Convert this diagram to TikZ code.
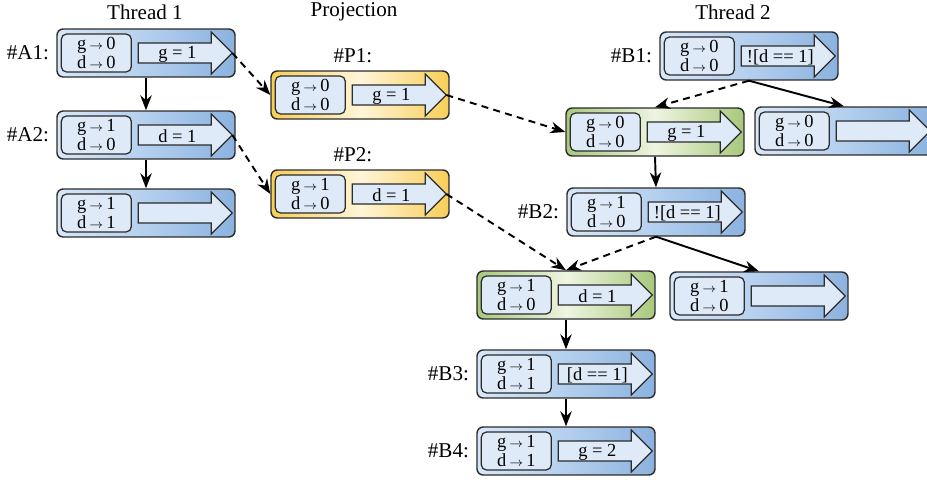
\documentclass[tikz,border=0pt]{standalone}
\usepackage{fontspec}
\setmainfont{Liberation Serif}
\usetikzlibrary{positioning,arrows.meta}

\definecolor{blueL}{HTML}{D8E7F8}
\definecolor{blueM}{HTML}{B4CFEE}
\definecolor{blueR}{HTML}{8BB2DF}
\definecolor{greenL}{HTML}{A8C87C}
\definecolor{greenM}{HTML}{EEF5E1}
\definecolor{greenR}{HTML}{A8C87C}
\definecolor{yellowL}{HTML}{F8CE58}
\definecolor{yellowM}{HTML}{FFF5D9}
\definecolor{yellowR}{HTML}{F8CE58}
\definecolor{paleblue}{HTML}{DFEAF8}
\definecolor{edgegray}{HTML}{2B2B2B}

\begin{document}
\begin{tikzpicture}[x=0.02cm, y=-0.02cm,
  stbox/.style={rectangle, rounded corners=3.5pt, draw=edgegray, line width=0.8pt,
                minimum width=3.56cm, minimum height=0.96cm, inner sep=0pt},
  vals/.style={rectangle, rounded corners=3pt, draw=edgegray, line width=0.7pt, fill=paleblue,
               minimum width=1.4cm, minimum height=0.76cm, inner sep=0pt, align=center,
               font=\fontsize{10.5}{10.4}\selectfont},
  actshape/.style={draw=edgegray, line width=0.7pt, fill=paleblue, line join=miter},
  acttext/.style={inner sep=0pt, font=\fontsize{10.5}{12}\selectfont},
  tag/.style={inner sep=0pt, font=\fontsize{12}{14}\selectfont},
  flow/.style={-{Stealth[length=8.5pt,width=6.5pt]}, line width=1.1pt},
  proj/.style={flow, dash pattern=on 4pt off 3pt}]

\useasboundingbox (0,0) rectangle (927,480);
\clip (0,0) rectangle (927,480);

% column titles
\node[tag] (t1) at (145,12) {Thread 1};
\node[tag] (tp) at (354,12) {Projection};
\node[tag] (t2) at (733,12) {Thread 2};

% states: name / x / y / colour / g / d / action
\foreach \nm/\x/\y/\kind/\gv/\dv/\act in {
    A1/146/53/blue/0/0/{g = 1}, A2/146/135/blue/1/0/{d = 1}, A3/146/213/blue/1/1/{},
    P1/360/95/yellow/0/0/{g = 1}, P2/360/194/yellow/1/0/{d = 1},
    B1/749/56/blue/0/0/{![d == 1]}, G1/655/132/green/0/0/{g = 1}, C1/844/131/blue/0/0/{},
    B2/656/212/blue/1/0/{![d == 1]}, G2/566/295/green/1/0/{d = 1}, C2/759/296/blue/1/0/{},
    B3/566/374/blue/1/1/{[d == 1]}, B4/566/451/blue/1/1/{g = 2}}{
  \node[stbox, left color=\kind L, right color=\kind R, middle color=\kind M] (\nm) at (\x,\y) {};
  \begin{scope}[shift={(\nm.west)}]
    \node[vals] (\nm v) at (40,0)
      {g\,{\scriptsize$\rightarrow$}\,\gv\\d\,{\scriptsize$\rightarrow$}\,\dv};
    \draw[actshape] (82,-10) -- (155,-10) -- (155,-21) -- (176,0)
                 -- (155,21) -- (155,10) -- (82,10) -- cycle;
    \node[acttext] (\nm a) at (121,1) {\act};
    \coordinate (\nm tip) at (176,0);
  \end{scope}
}

% labels
\foreach \nm in {A1,A2,B1,B2,B3,B4}
  \node[tag, left=4pt of \nm] (\nm tag) {\#\nm:};
\node[tag, above=0.15cm of P1, xshift=-0.14cm] (P1tag) {\#P1:};
\node[tag, above=0.15cm of P2, xshift=-0.14cm] (P2tag) {\#P2:};

% thread 1
\draw[flow] (A1) -- (A2);
\draw[flow] (A2) -- (A3);
\draw[proj] (A1tip) -- (P1.west);
\draw[proj] (A2tip) -- (P2.west);

% thread 2
\draw[proj] (P1tip) -- (G1.west);
\draw[proj] (P2tip) -- (G2.north);
\draw[proj] (B1.south) -- (G1.north);
\draw[flow] (B1.south) -- (C1.north);
\draw[flow] (G1.south) -- (B2.north);
\draw[proj] (B2.south) -- (G2.north);
\draw[flow] (B2.south) -- (C2.north);
\draw[flow] (G2) -- (B3);
\draw[flow] (B3) -- (B4);

\end{tikzpicture}
\end{document}
